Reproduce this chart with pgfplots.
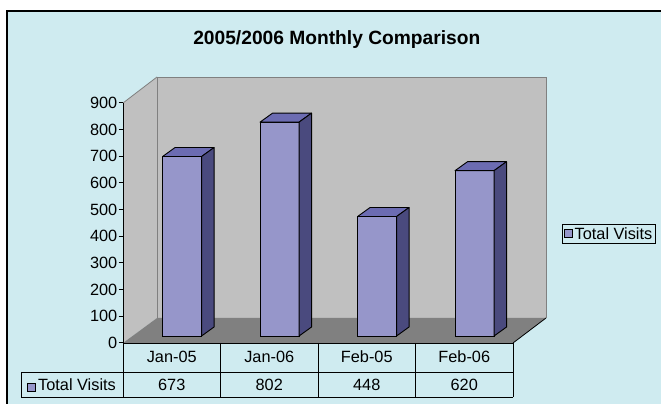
\documentclass[border=0pt]{standalone}
\usepackage{pgfplots}
\usepackage{pgfplotstable}
\pgfplotsset{compat=1.18}
\usepackage{fontspec}
\setmainfont{Liberation Sans}
\definecolor{bg}{RGB}{207,235,240}
\definecolor{wall}{RGB}{192,192,192}
\definecolor{floorc}{RGB}{128,128,128}
\definecolor{barfront}{RGB}{150,150,202}
\definecolor{bartop}{RGB}{108,108,178}
\definecolor{barside}{RGB}{74,74,126}
\pgfdeclareplotmark{none3d}{}
\pgfplotstableread{
x visits
0 673
1 802
2 448
3 620
}\visitsdata
\newcommand{\tfont}{\fontsize{16.3}{19}\selectfont}
\begin{document}
\begin{tikzpicture}[x=1pt,y=1pt]
\useasboundingbox (0,0) rectangle (661,404);
\fill[white] (0,0) rectangle (661,404);
\fill[bg] (7,-2) rectangle (663,393);
\draw[black, line width=1.2pt] (7,-2) -- (7,393) -- (663,393);
\node[font=\bfseries\fontsize{19.2}{22}\selectfont, anchor=base, inner sep=0pt] at (336.8,359) {2005/2006 Monthly Comparison};
% walls and floor
\fill[wall] (157,86) rectangle (546,327);
\fill[wall] (123,61) -- (123,301) -- (157,327) -- (157,86) -- cycle;
\draw[gray, line width=0.8pt] (157,86) -- (157,327) -- (546,327) -- (546,86);
\draw[gray, line width=0.8pt] (123,301) -- (157,327);
\fill[floorc] (123,61) -- (513,61) -- (546,86) -- (157,86) -- cycle;
\draw[black, line width=0.8pt] (513,61) -- (546,86);
\begin{axis}[
  at={(123pt,61pt)}, anchor=south west,
  scale only axis, width=390pt, height=240pt,
  xmin=-0.5, xmax=3.5, ymin=0, ymax=900,
  axis x line=none, axis y line=left,
  axis line style={-, black, line width=1pt},
  ytick={0,100,...,900}, xtick=\empty,
  tick align=outside, major tick length=4.5pt,
  tick style={black, line width=1pt},
  yticklabel style={font=\tfont, inner sep=1pt},
  /pgf/number format/assume math mode=true,
  clip=false,
  legend style={at={(1.1256,0.4958)}, anchor=north west, draw=black, fill=bg,
    line width=0.8pt, inner xsep=1.5pt, inner ysep=0.8pt, font=\tfont,
    /tikz/every even column/.append style={column sep=1pt}},
  legend cell align=left,
  legend image code/.code={\draw[fill=barfront, draw=black, line width=0.8pt] (0pt,-4pt) rectangle (8pt,4pt);},
]
\addplot[scatter, only marks, mark=none3d,
  visualization depends on={\thisrow{visits} \as \barval},
  scatter/@pre marker code/.code={%
    \pgfmathsetmacro\hb{7-\barval*0.266667}%
    \pgfmathsetmacro\hs{16-\barval*0.266667}%
    \filldraw[fill=barfront, draw=black, line width=0.9pt] (-9.2pt,\hb pt) rectangle (29.8pt,7pt);
    \filldraw[fill=bartop, draw=black, line width=0.9pt, line join=round] (-9.2pt,7pt) -- (29.8pt,7pt) -- (42.3pt,16pt) -- (3.3pt,16pt) -- cycle;
    \filldraw[fill=barside, draw=black, line width=0.9pt, line join=round] (29.8pt,7pt) -- (42.3pt,16pt) -- (42.3pt,\hs pt) -- (29.8pt,\hb pt) -- cycle;
  },
  scatter/@post marker code/.code={},
] table[x=x, y=visits] {\visitsdata};
\addlegendentry{Total Visits}
\end{axis}
% data table
\begin{scope}[line width=0.9pt]
\draw (123,61) -- (513,61);
\draw (21,32) -- (513,32);
\draw (21,7) -- (513,7);
\draw (21,32) -- (21,7);
\foreach \xx in {123,220.5,318,415.5,513} \draw (\xx,61) -- (\xx,7);
\end{scope}
\foreach \xx/\lab/\val in {171.75/Jan-05/673, 269.25/Jan-06/802, 366.75/Feb-05/448, 464.25/Feb-06/620} {
  \node[font=\tfont, anchor=base, inner sep=0pt] at (\xx,41) {\lab};
  \node[font=\tfont, anchor=base, inner sep=0pt] at (\xx,13) {\val};
}
\draw[fill=barfront, draw=black, line width=0.8pt] (27,13) rectangle (35,21);
\node[font=\tfont, anchor=base west, inner sep=0pt] at (38,13) {Total Visits};
\end{tikzpicture}
\end{document}
